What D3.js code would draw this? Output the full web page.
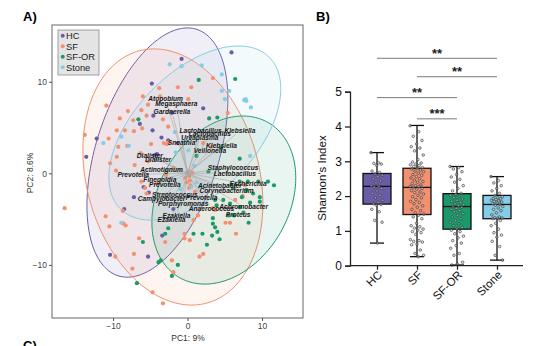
<!DOCTYPE html>
<html>
<head>
<meta charset="utf-8">
<script src="https://cdn.jsdelivr.net/npm/d3@7"></script>
<style>
  body { margin: 0; background: #fff; }
  svg { display: block; font-family: "Liberation Sans", Arial, Helvetica, sans-serif; }
</style>
</head>
<body>
<svg id="chart" width="543" height="346"></svg>
<script>
// ---- panel A : PCA biplot ----
const groups = ['HC', 'SF', 'SF-OR', 'Stone'];
const groupColors = ['#6b5ca8', '#f2906f', '#1a9a6b', '#85cce6'];

const hcPoints = [[5.9,13.2],[-0.8,12.5],[-4.8,9.8],[2.1,7.1],[-4.6,6.3],[-6.4,5.4],[-4.7,4.7],[-12.2,3.8],
  [-3.5,3.9],[-13.6,1.8],[-4.1,2.1],[-5.9,-1.5],[-5.2,-2.1],[-7.2,-2.6],[-8.5,-3.9],[-1.9,-3.9],[-3.4,-6.8],
  [-10.4,-8.9],[-5.3,-9.1],[-1.3,3.3],[-2.1,6.6],[-2.6,3.6],[-4.4,2.0]];
const sfPoints = [[-3.8,9.3],[-1.3,9.4],[0.5,9.4],[3.4,10.4],[-6.0,8.4],[-3.7,8.4],[0.1,8.1],[-10.9,7.4],
  [-6.2,6.9],[-8.0,6.8],[-9.1,6.0],[-7.3,5.8],[-5.5,6.3],[-2.6,5.1],[-13.8,4.2],[-9.5,4.7],[-7.2,4.6],[-6.1,4.9],
  [-10.6,3.8],[-4.9,3.2],[-2.8,3.2],[-2.5,3.4],[-8.1,3.0],[-9.3,2.9],[-6.3,2.2],[-10.4,1.1],[-9.6,0.3],[-7.1,0.9],
  [-6.2,-0.9],[-5.7,-1.6],[-5.5,-2.2],[-16.5,-3.8],[-11.0,-4.7],[-10.5,-5.8],[-8.6,-5.5],[-8.3,-5.7],[-8.7,-4.1],
  [-6.5,-7.1],[-9.7,-9.1],[-7.2,-8.8],[-7.4,-10.4],[-4.7,-13.0],[-3.3,-14.2],[-2.1,-9.5],[-1.9,-10.8],[-3.0,-7.5],
  [-0.4,-6.6],[0.3,-7.3],[-0.4,-7.1],[1.6,-9.1],[2.1,-8.8],[0.8,-5.1],[1.4,-4.6],[3.4,-3.8],[3.7,-4.0],[5.1,-5.4],
  [5.7,-5.4],[6.5,-6.6],[6.4,-2.9],[7.7,-1.3],[7.4,-2.5],[5.4,6.6],[3.2,2.9],[2.1,3.3],[0.0,0.2],[0.2,-0.3],
  [0.3,-0.8],[-0.1,-1.0],[0.4,-1.3],[0.2,-1.6],[0.6,0.1],[-0.3,-0.5],[-2.9,-0.2],[-3.2,3.3],[-1.9,0.6],[1.0,-2.0],
  [-4.2,-1.1],[-5.3,7.5],[-3.3,5.9],[-5.3,1.3],[-9.5,1.8],[-8.4,4.7]];
const sforPoints = [[1.5,10.2],[6.4,10.3],[-6.6,5.9],[2.9,6.0],[4.0,6.1],[1.2,1.9],[7.0,1.6],[2.8,0.2],
  [7.0,-0.9],[8.1,-0.9],[9.5,-0.9],[10.8,-0.9],[11.6,-1.3],[6.1,-1.6],[7.9,-1.8],[8.8,-2.2],[9.7,-2.6],[9.7,-3.1],
  [3.7,-2.9],[4.8,-2.9],[5.7,-3.3],[7.0,-3.7],[8.4,-3.2],[5.5,-4.6],[6.2,-4.6],[7.5,-4.3],[8.2,-5.4],[3.4,-4.9],
  [3.4,-5.5],[3.7,-5.9],[4.0,-6.4],[4.3,-7.2],[3.3,-6.8],[2.0,-6.6],[2.6,-7.8],[0.8,-6.6],[-2.6,-6.0],[-3.0,-6.6],
  [-6.0,-7.5],[-3.9,-9.7],[-3.6,-9.5],[-1.3,-10.0],[-2.1,-11.2],[-6.8,-12.0],[7.3,-2.6],[4.5,2.8],[3.9,-3.5]];
const stonePoints = [[-2.4,11.9],[-0.8,11.7],[1.9,11.8],[4.6,10.8],[4.6,9.0],[5.0,8.1],[7.6,8.0],[7.9,7.9],
  [7.8,8.1],[8.5,7.2],[-11.3,3.3],[-8.9,4.0],[-7.9,3.0],[-4.2,1.5],[1.7,-1.5],[8.4,1.9],[-8.9,-5.4],[0.5,-1.5],
  [1.2,-1.0],[-0.6,3.5],[-1.6,2.3],[-1.7,4.5],[0.1,2.5],[-1.0,-1.7],[0.9,0.8],[5.6,9.0]];

// ellipses: centre, then two conjugate half-axis vectors (PC units)
const ellipseCentres = [[-4.05,2.27],[-1.97,-0.40],[4.87,-2.92],[0.98,4.40]];
const ellipseAxisU = [[9.46,5.81],[12.08,-2.92],[9.66,2.43],[11.54,4.83]];
const ellipseAxisV = [[0,-12.31],[0,-13.68],[0,-8.85],[0,-8.19]];

const loadingNames = ['Atopobium','Megasphaera','Gardnerella','Lactobacillus','Klebsiella','Lactobacillus',
  'Ureaplasma','Sneathia','Klebsiella','Veillonella','Dialister','Dialister','Actinotignum','Prevotella',
  'Finegoldia','Prevotella','Staphylococcus','Lactobacillus','Escherichia','Acinetobacter','Corynebacterium',
  'Streptococcus','Campylobacter','Prevotella','Porphyromonas','Anaerococcus','Achromobacter','Proteus',
  'Ezakiella','Ezakiella'];
const loadingX = [-2.95,-1.5,-2.1,1.74,7.03,3.0,1.65,-0.8,4.56,3.0,-5.06,-3.95,-3.49,-7.3,-3.72,-3.05,
  6.12,6.35,8.13,4.34,5.23,-1.7,-3.49,1.88,-0.59,3.22,7.54,6.79,-1.48,-2.15];
const loadingY = [8.1,7.6,6.75,4.66,4.62,4.3,3.93,3.39,3.02,2.47,1.89,1.53,0.36,-0.11,-0.66,-1.28,
  0.66,0.0,-1.17,-1.39,-1.9,-2.3,-2.73,-2.67,-3.28,-3.83,-3.65,-4.56,-4.67,-5.03];

const pcTicks = [-10, 0, 10];

// ---- panel B : Shannon index ----
const shannonTicks = [0, 1, 2, 3, 4, 5];
const boxMin = [0.65, 0.26, 0.02, 0.16];
const boxQ1 = [1.77, 1.47, 1.05, 1.35];
const boxMedian = [2.28, 2.25, 1.70, 1.76];
const boxQ3 = [2.65, 2.80, 2.07, 2.02];
const boxMax = [3.25, 4.03, 2.85, 2.56];

const hcShannon = [3.25,2.96,2.94,2.92,2.88,2.72,2.68,2.64,2.60,2.56,2.50,2.44,2.38,2.30,2.28,2.26,2.22,2.15,
  2.08,2.02,1.95,1.88,1.82,1.78,1.76,1.74,1.62,1.55,1.30,1.25,0.65];
const sfShannon = [4.02,3.85,3.72,3.6,3.5,3.42,3.38,3.3,3.18,3.05,2.98,2.95,2.92,2.9,2.88,2.85,2.82,2.8,2.78,
  2.75,2.72,2.7,2.66,2.62,2.6,2.56,2.52,2.5,2.46,2.42,2.4,2.36,2.32,2.3,2.28,2.27,2.25,2.22,2.2,2.16,2.12,2.1,
  2.06,2.02,1.98,1.95,1.9,1.85,1.82,1.78,1.72,1.68,1.62,1.58,1.52,1.48,1.45,1.4,1.35,1.22,1.15,1.12,1.08,1.05,
  1.02,0.98,0.95,0.9,0.75,0.72,0.7,0.68,0.62,0.6,0.45,0.35,0.3,0.26];
const sforShannon = [2.85,2.82,2.78,2.7,2.62,2.55,2.48,2.4,2.3,2.22,2.15,2.08,2.05,2.02,2.0,1.96,1.92,1.88,
  1.85,1.82,1.78,1.75,1.72,1.7,1.68,1.65,1.62,1.58,1.55,1.5,1.45,1.4,1.35,1.3,1.25,1.2,1.15,1.1,1.06,1.02,
  0.98,0.92,0.85,0.8,0.72,0.65,0.58,0.5,0.35,0.3,0.1,0.05,0.02];
const stoneShannon = [2.56,2.45,2.38,2.3,2.22,2.15,2.08,2.02,1.98,1.95,1.93,1.92,1.9,1.88,1.86,1.85,1.83,1.8,
  1.78,1.76,1.74,1.7,1.66,1.62,1.58,1.52,1.46,1.4,1.38,1.37,1.36,1.35,1.3,1.22,1.15,1.05,0.95,0.88,0.82,0.7,
  0.55,0.3,0.16];

const sigFrom = ['HC', 'SF', 'HC', 'SF'];
const sigTo = ['Stone', 'Stone', 'SF-OR', 'SF-OR'];
const sigLevel = [5.96, 5.43, 4.83, 4.22];
const sigLabel = ['**', '**', '**', '***'];

const svg = d3.select('#chart');

const drawPca = () => {
  const x = d3.scaleLinear().domain([-18.2, 15.5]).range([52, 303]);
  const y = d3.scaleLinear().domain([-15.8, 16.2]).range([318, 25]);
  const g = svg.append('g');

  g.append('text').attr('x', 23).attr('y', 21)
    .attr('font-size', 13).attr('font-weight', 'bold').text('A)');
  g.append('text').attr('x', 23).attr('y', 350)
    .attr('font-size', 13).attr('font-weight', 'bold').text('C)');

  // ellipses
  const ts = d3.range(0, Math.PI * 2, Math.PI / 90);
  const line = d3.line().curve(d3.curveLinearClosed);
  groups.forEach((grp, i) => {
    const [cx, cy] = ellipseCentres[i];
    const [ux, uy] = ellipseAxisU[i];
    const [vx, vy] = ellipseAxisV[i];
    const pts = ts.map(t => [x(cx + ux * Math.cos(t) + vx * Math.sin(t)),
                             y(cy + uy * Math.cos(t) + vy * Math.sin(t))]);
    g.append('path').attr('d', line(pts))
      .attr('fill', groupColors[i]).attr('fill-opacity', 0.1)
      .attr('stroke', groupColors[i]).attr('stroke-width', 1);
  });

  // points
  const allPoints = [hcPoints, sfPoints, sforPoints, stonePoints];
  allPoints.forEach((pts, i) => {
    g.append('g').selectAll('circle').data(pts).enter().append('circle')
      .attr('cx', d => x(d[0])).attr('cy', d => y(d[1])).attr('r', 2.1)
      .attr('fill', groupColors[i]);
  });

  // loading arrows + labels
  const loadings = loadingNames.map((n, i) => ({ name: n, x: loadingX[i], y: loadingY[i] }));
  g.append('g').selectAll('line').data(loadings).enter().append('line')
    .attr('x1', x(0)).attr('y1', y(0))
    .attr('x2', d => x(d.x * 0.92)).attr('y2', d => y(d.y * 0.92))
    .attr('stroke', '#a8a8a8').attr('stroke-width', 0.6);
  g.append('g').selectAll('text').data(loadings).enter().append('text')
    .attr('x', d => x(d.x)).attr('y', d => y(d.y)).attr('dy', '0.35em')
    .attr('text-anchor', 'middle').attr('font-size', 6.6)
    .attr('font-style', 'italic').attr('font-weight', 'bold').attr('fill', '#151515')
    .text(d => d.name);

  // frame
  g.append('rect').attr('x', 52).attr('y', 25).attr('width', 251).attr('height', 293)
    .attr('fill', 'none').attr('stroke', '#666').attr('stroke-width', 1);

  const xAxis = d3.axisBottom(x).tickValues(pcTicks).tickSize(3).tickPadding(2);
  const yAxis = d3.axisLeft(y).tickValues(pcTicks).tickSize(3).tickPadding(2);
  const xa = g.append('g').attr('transform', 'translate(0,318)').call(xAxis);
  const ya = g.append('g').attr('transform', 'translate(52,0)').call(yAxis);
  [xa, ya].forEach(a => {
    a.select('.domain').remove();
    a.selectAll('line').attr('stroke', '#555');
    a.selectAll('text').attr('font-size', 8.5).attr('fill', '#444')
      .attr('font-family', '"Liberation Sans", Arial, sans-serif');
  });

  g.append('text').attr('x', 188).attr('y', 341).attr('text-anchor', 'middle')
    .attr('font-size', 8.5).attr('fill', '#333').text('PC1: 9%');
  g.append('text').attr('transform', 'translate(33,173) rotate(-90)').attr('text-anchor', 'middle')
    .attr('font-size', 8.5).attr('fill', '#333').text('PC2: 8.6%');

  // legend
  const lg = g.append('g');
  lg.append('rect').attr('x', 58).attr('y', 30).attr('width', 41).attr('height', 45)
    .attr('fill', '#e4e4e4').attr('stroke', '#8a8a8a').attr('stroke-width', 0.8);
  groups.forEach((grp, i) => {
    const yy = 35.7 + i * 10.5;
    lg.append('circle').attr('cx', 62.7).attr('cy', yy).attr('r', 2).attr('fill', groupColors[i]);
    lg.append('text').attr('x', 66).attr('y', yy).attr('dy', '0.36em')
      .attr('font-size', 9.3).attr('fill', '#222').text(grp);
  });
};

const drawShannon = () => {
  const y = d3.scaleLinear().domain([0, 5]).range([265.7, 91.7]);
  const x = d3.scalePoint().domain(groups).range([377, 497]);
  const g = svg.append('g');
  const boxW = 28, capW = 14;

  g.append('text').attr('x', 316).attr('y', 21)
    .attr('font-size', 13).attr('font-weight', 'bold').text('B)');

  // significance bars
  sigFrom.forEach((f, i) => {
    g.append('line').attr('x1', x(f)).attr('x2', x(sigTo[i]))
      .attr('y1', y(sigLevel[i])).attr('y2', y(sigLevel[i]))
      .attr('stroke', '#7a7a7a').attr('stroke-width', 1);
    g.append('text').attr('x', (x(f) + x(sigTo[i])) / 2).attr('y', y(sigLevel[i]) - 0.5)
      .attr('text-anchor', 'middle').attr('font-size', 13).attr('font-weight', 'bold')
      .attr('fill', '#222').text(sigLabel[i]);
  });

  // boxes
  groups.forEach((grp, i) => {
    const cx = x(grp);
    g.append('line').attr('x1', cx).attr('x2', cx).attr('y1', y(boxMin[i])).attr('y2', y(boxMax[i]))
      .attr('stroke', '#111').attr('stroke-width', 1.3);
    [boxMin[i], boxMax[i]].forEach(v => {
      g.append('line').attr('x1', cx - capW / 2).attr('x2', cx + capW / 2)
        .attr('y1', y(v)).attr('y2', y(v)).attr('stroke', '#111').attr('stroke-width', 1.3);
    });
    g.append('rect').attr('x', cx - boxW / 2).attr('y', y(boxQ3[i]))
      .attr('width', boxW).attr('height', y(boxQ1[i]) - y(boxQ3[i]))
      .attr('fill', groupColors[i]).attr('stroke', '#111').attr('stroke-width', 1.3);
    g.append('line').attr('x1', cx - boxW / 2).attr('x2', cx + boxW / 2)
      .attr('y1', y(boxMedian[i])).attr('y2', y(boxMedian[i]))
      .attr('stroke', '#111').attr('stroke-width', 1.3);
  });

  // individual values
  const shannonSets = [hcShannon, sfShannon, sforShannon, stoneShannon];
  shannonSets.forEach((vals, i) => {
    const spread = i === 1 || i === 2 ? 14 : 12;
    g.append('g').selectAll('circle').data(vals).enter().append('circle')
      .attr('cx', (d, j) => x(groups[i]) + (((j * 0.6180339) % 1) - 0.5) * spread)
      .attr('cy', d => y(d)).attr('r', 1.3)
      .attr('fill', '#ccc').attr('fill-opacity', 0.5)
      .attr('stroke', '#333').attr('stroke-width', 0.6);
  });

  // axes
  const yAxis = d3.axisLeft(y).tickValues(shannonTicks).tickFormat(d3.format('d'))
    .tickSize(5).tickPadding(3);
  const ya = g.append('g').attr('transform', 'translate(350,0)').call(yAxis);
  ya.select('.domain').attr('stroke', '#222').attr('stroke-width', 1.3);
  ya.selectAll('line').attr('stroke', '#222').attr('stroke-width', 1.3);
  ya.selectAll('text').attr('font-size', 12).attr('fill', '#111')
    .attr('font-family', '"Liberation Sans", Arial, sans-serif');

  g.append('line').attr('x1', 350).attr('x2', 523).attr('y1', y(0)).attr('y2', y(0))
    .attr('stroke', '#222').attr('stroke-width', 1.3);
  const xAxis = d3.axisBottom(x).tickSize(4).tickFormat('');
  const xa = g.append('g').attr('transform', `translate(0,${y(0)})`).call(xAxis);
  xa.select('.domain').remove();
  xa.selectAll('line').attr('stroke', '#222').attr('stroke-width', 1.3);

  g.selectAll('.cat-label').data(groups).enter().append('text')
    .attr('class', 'cat-label')
    .attr('transform', d => `translate(${x(d) + 3},${y(0) + 7}) rotate(-45)`)
    .attr('text-anchor', 'end').attr('dy', '0.35em')
    .attr('font-size', 11.5).attr('fill', '#111').text(d => d);

  g.append('text').attr('transform', 'translate(326,178) rotate(-90)').attr('text-anchor', 'middle')
    .attr('font-size', 11.5).attr('fill', '#111').text("Shannon's Index");
};

drawPca();
drawShannon();
</script>
</body>
</html>
